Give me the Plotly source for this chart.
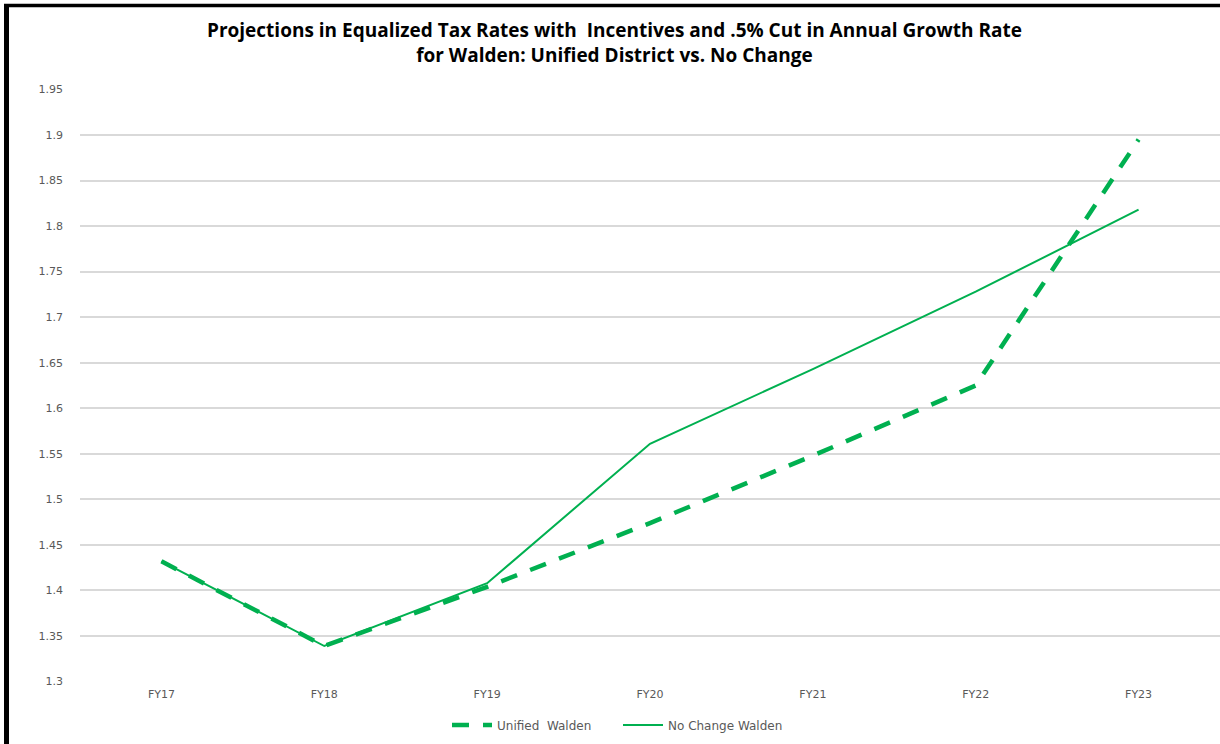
import plotly.graph_objects as go

# Fiscal years on the category axis
years = ["FY17", "FY18", "FY19", "FY20", "FY21", "FY22", "FY23"]

# Equalized tax rate projections
unified_walden = [1.432, 1.339, 1.404, 1.474, 1.548, 1.625, 1.895]
no_change_walden = [1.432, 1.339, 1.408, 1.561, 1.643, 1.728, 1.818]

# Value axis ticks
y_ticks = [1.3, 1.35, 1.4, 1.45, 1.5, 1.55, 1.6, 1.65, 1.7, 1.75, 1.8, 1.85, 1.9, 1.95]
y_tick_labels = ["1.3", "1.35", "1.4", "1.45", "1.5", "1.55", "1.6", "1.65",
                 "1.7", "1.75", "1.8", "1.85", "1.9", "1.95"]

TITLE = ("Projections in Equalized Tax Rates with  Incentives and .5% Cut in Annual Growth Rate"
         "<br>for Walden: Unified District vs. No Change")

GREEN = "#00B050"
GRAY_TEXT = "#595959"
GRID = "#D9D9D9"
TITLE_FONT = "'Open Sans', Lato, sans-serif"
LABEL_FONT = "'DejaVu Sans', Verdana, sans-serif"

fig = go.Figure()
fig.add_trace(go.Scatter(
    x=years, y=unified_walden, mode="lines",
    name="Unified\u00a0 Walden",
    line=dict(color=GREEN, width=4.5, dash="17px,14px"),
))
fig.add_trace(go.Scatter(
    x=years, y=no_change_walden, mode="lines",
    name="No Change Walden",
    line=dict(color=GREEN, width=2),
))

W, H = 1220, 744
ML, MR, MT, MB = 80, 0, 89, 62
plot_h = H - MT - MB
plot_w = W - ML - MR


def px_x(px):
    return (px - ML) / plot_w


def px_y(py):
    return (H - MB - py) / plot_h


fig.update_layout(
    width=W, height=H,
    margin=dict(l=ML, r=MR, t=MT, b=MB),
    paper_bgcolor="white", plot_bgcolor="white",
    font=dict(family=LABEL_FONT, color=GRAY_TEXT, size=11),
    xaxis=dict(
        type="category", range=[-0.5, 6.5],
        showgrid=False, showline=False, zeroline=False,
        ticks="", tickfont=dict(size=11, color=GRAY_TEXT),
        ticklabelstandoff=4,
    ),
    yaxis=dict(
        range=[1.2995, 1.9505],
        tickvals=y_ticks, ticktext=y_tick_labels,
        showgrid=True, gridcolor=GRID, gridwidth=1.5,
        zeroline=False, showline=False, ticks="",
        tickfont=dict(size=11, color=GRAY_TEXT),
        ticklabelstandoff=16,
    ),
    legend=dict(
        orientation="h",
        x=px_x(447), xanchor="left",
        y=px_y(725), yanchor="middle",
        font=dict(family=LABEL_FONT, size=12, color=GRAY_TEXT),
        itemwidth=40,
        entrywidth=116,
        tracegroupgap=0,
        bgcolor="rgba(0,0,0,0)",
    ),
    showlegend=True,
    annotations=[
        dict(text=TITLE, showarrow=False,
             xref="paper", yref="paper",
             x=px_x(614), xanchor="center",
             y=px_y(15), yanchor="top",
             align="center",
             font=dict(family=TITLE_FONT, size=19, color="black", weight="bold")),
    ],
    shapes=[
        # frame edges along the left and top of the page
        dict(type="line", xref="paper", yref="paper",
             x0=px_x(6.5), x1=px_x(6.5), y0=px_y(4), y1=px_y(744),
             line=dict(color="black", width=5)),
        dict(type="line", xref="paper", yref="paper",
             x0=px_x(4), x1=px_x(1220), y0=px_y(5.5), y1=px_y(5.5),
             line=dict(color="black", width=3.5)),
    ],
)

fig.write_html("out.html")
